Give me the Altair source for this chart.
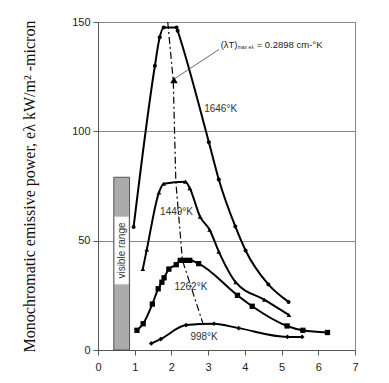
import altair as alt
import pandas as pd

# 1646 K curve (circles)
x1646 = [0.97, 1.55, 1.68, 1.79, 2.14, 2.17, 3.02, 3.29, 3.74, 4.02, 4.64, 5.19]
y1646 = [56.3, 130, 143, 147.5, 147.5, 146, 95, 78, 56.5, 45.5, 30, 22]
# 1449 K curve (triangles)
x1449 = [1.22, 1.33, 1.66, 1.79, 2.38, 2.50, 2.78, 3.04, 3.29, 3.75, 4.53, 5.20]
y1449 = [37, 46, 72, 76, 77, 74, 61, 55, 45, 31, 23, 16]
# 1262 K curve (squares)
x1262 = [1.06, 1.23, 1.48, 1.64, 1.74, 1.80, 1.93, 2.13, 2.24, 2.37, 2.50, 2.74, 3.80, 4.20, 5.15, 5.58, 6.25]
y1262 = [9, 12, 21, 28, 31, 33, 37, 39, 41, 41, 41, 39.5, 25, 20, 11, 9, 8]
# 998 K curve
x998 = [1.45, 1.71, 2.40, 3.16, 3.83, 5.16, 5.56]
y998 = [3, 5, 11.4, 12, 10, 6, 6]
# Wien displacement locus
xwien = [1.90, 2.05, 2.12, 2.30, 2.88]
ywien = [150, 123, 77, 41, 11]

temps = ["1646°K", "1449°K", "1262°K", "998°K"]
label_x = [3.34, 2.14, 2.53, 2.89]
label_y = [110, 63, 29, 6]

ann_text = ["(λT)", "max eλ", "= 0.2898 cm-°K"]
ann_size = [9.5, 5, 9.5]
ann_dx = [0, 17, 36]
ann_dy = [0, 2, 0]

def df(xs, ys, name):
    return pd.DataFrame({"x": xs, "y": ys, "s": name})

xs = alt.Scale(domain=[0, 7], nice=False)
ys = alt.Scale(domain=[0, 150], nice=False)
X = alt.X("x:Q", scale=xs, axis=alt.Axis(values=list(range(8)), title=None, grid=False,
          labelFont="Liberation Sans", labelFontSize=11, labelColor="#222", labelPadding=6,
          domainColor="#555", tickColor="#555", tickSize=5, labelFlush=False))
Y = alt.Y("y:Q", scale=ys, axis=alt.Axis(values=[0, 50, 100, 150], grid=True, gridColor="#888",
          title="Monochromatic emissive power, eλ kW/m² -micron",
          titleFont="Liberation Serif", titleFontSize=16, titleFontWeight="normal",
          titleColor="#111", titlePadding=34,
          labelFont="Liberation Sans", labelFontSize=11, labelColor="#222",
          domainColor="#555", tickColor="#555", tickSize=5, labelPadding=3))

def curve(d, shape, size):
    base = alt.Chart(d).encode(x=X, y=Y)
    line = base.mark_line(color="black", strokeWidth=2, interpolate="monotone")
    pts = base.mark_point(shape=shape, filled=True, color="black", size=size, opacity=1)
    return line + pts

# visible range bar
vis = pd.DataFrame({"x": [0.43], "x2": [0.86], "y": [0], "y2": [79]})
visw = pd.DataFrame({"x": [0.45], "x2": [0.84], "y": [30], "y2": [61]})
bar = alt.Chart(vis).mark_rect(fill="#ababab", stroke="#555", strokeWidth=1).encode(
    x=X, x2="x2:Q", y=Y, y2="y2:Q")
barw = alt.Chart(visw).mark_rect(fill="white", stroke="#999", strokeDash=[1, 1], strokeWidth=0.5).encode(
    x=X, x2="x2:Q", y=Y, y2="y2:Q")
vistext = alt.Chart(pd.DataFrame({"x": [0.645], "y": [45.5], "t": ["visible range"]})).mark_text(
    angle=270, font="Liberation Sans", fontSize=10, color="#333").encode(x=X, y=Y, text="t:N")

wien = alt.Chart(df(xwien, ywien, "w")).mark_line(color="black", strokeWidth=1.2,
                                                   strokeDash=[7, 3, 2, 3]).encode(x=X, y=Y)

labels = alt.Chart(pd.DataFrame({"x": label_x, "y": label_y, "t": temps})).mark_text(
    font="Liberation Sans", fontSize=10, color="#333").encode(x=X, y=Y, text="t:N")

# annotation
arrow = alt.Chart(pd.DataFrame({"x": [3.30], "y": [137.5], "x2": [2.08], "y2": [124]})).mark_rule(
    color="#444", strokeWidth=0.8).encode(x=X, y=Y, x2="x2:Q", y2="y2:Q")
head = alt.Chart(pd.DataFrame({"x": [2.07], "y": [123.5]})).mark_point(
    shape="triangle-up", filled=True, color="black", size=55, opacity=1).encode(x=X, y=Y)

ann_layers = []
for t, s, dx, dy in zip(ann_text, ann_size, ann_dx, ann_dy):
    ann_layers.append(
        alt.Chart(pd.DataFrame({"x": [3.34], "y": [139.5], "t": [t]})).mark_text(
            font="Liberation Sans", color="#222", align="left", fontSize=s, dx=dx, dy=dy
        ).encode(x=X, y=Y, text="t:N"))

chart = alt.layer(
    bar, barw, vistext, wien,
    curve(df(x1646, y1646, "a"), "circle", 16),
    curve(df(x1449, y1449, "b"), "triangle-up", 22),
    curve(df(x1262, y1262, "c"), "square", 28),
    curve(df(x998, y998, "d"), "diamond", 22),
    labels, arrow, head, *ann_layers,
).properties(width=257, height=328, background="white",
             autosize=alt.AutoSizeParams(type="none"),
             padding={"left": 90, "top": 14, "right": 20, "bottom": 30}
).configure_view(stroke="#888", strokeWidth=1)

chart.save("out.html", embed_options={"renderer": "svg", "actions": False})
